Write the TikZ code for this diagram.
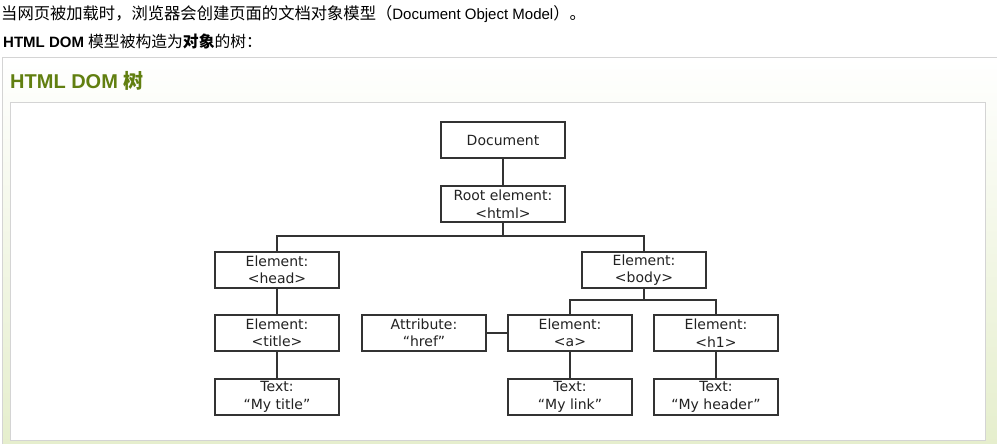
\documentclass[tikz,border=0pt]{standalone}
\usepackage{fontspec}
\setmainfont{Liberation Sans}
\newfontfamily\cjk{Noto Sans CJK SC}
\newfontfamily\verd{DejaVu Sans}
\definecolor{panelgreen}{RGB}{229,238,204}
\definecolor{panelborder}{RGB}{212,212,212}
\definecolor{headgreen}{RGB}{97,127,16}
\definecolor{boxline}{RGB}{51,51,51}
\definecolor{boxtext}{RGB}{34,34,34}
\tikzset{
  dombox/.style={draw=boxline, line width=1.1pt, fill=white, minimum width=124pt, minimum height=36pt,
    inner sep=0pt, align=center, text=boxtext, font=\verd\fontsize{14}{17.5}\selectfont},
  link/.style={draw=boxline, line width=1.2pt},
}
\begin{document}
\begin{tikzpicture}[x=1pt,y=-1pt]
\useasboundingbox (0,0) rectangle (997,444);
\clip (0,0) rectangle (997,444);
% outer panel
\shade[top color=white, bottom color=panelgreen] (2.5,57.5) rectangle (1010,450);
\draw[draw=panelborder, line width=1pt] (2.5,460) -- (2.5,57.5) -- (1010,57.5);
% inner white box
\draw[draw=panelborder, fill=white, line width=1pt] (10.5,102.5) rectangle (985,440);
% texts above
\node[anchor=west, inner sep=0pt, font=\fontsize{15}{18}\selectfont] (t1) at (1,14)
  {{\cjk\fontsize{16.3}{18}\selectfont 当网页被加载时，浏览器会创建页面的文档对象模型（}Document Object Model{\cjk\fontsize{16.3}{18}\selectfont ）。}};
\node[anchor=west, inner sep=0pt, font=\fontsize{15}{18}\selectfont] (t2) at (3,41)
  {\textbf{HTML DOM} {\cjk\fontsize{15.8}{18}\selectfont 模型被构造为\textbf{对象}的树：}};
\node[anchor=west, inner sep=0pt, text=headgreen, font=\bfseries\fontsize{20}{24}\selectfont] (h) at (10,81)
  {HTML DOM {\cjk\bfseries 树}};
% tree
\node[dombox] (doc) at (503,140) {Document};
\node[dombox] (root) at (503,204) {Root element:\\<html>};
\node[dombox] (head) at (277,270) {Element:\\<head>};
\node[dombox] (body) at (644,270) {Element:\\<body>};
\node[dombox] (title) at (277,333) {Element:\\<title>};
\node[dombox] (ttitle) at (277,397) {Text:\\“My title”};
\node[dombox] (attr) at (424,333) {Attribute:\\“href”};
\node[dombox] (a) at (570,333) {Element:\\<a>};
\node[dombox] (h1) at (716,333) {Element:\\<h1>};
\node[dombox] (tlink) at (570,397) {Text:\\“My link”};
\node[dombox] (theader) at (716,397) {Text:\\“My header”};
\coordinate (rb) at (503,236);
\coordinate (bb) at (644,300);
\draw[link] (doc) -- (root);
\draw[link] (root) -- (rb);
\draw[link] (head.north) |- (rb) -| (body.north);
\draw[link] (head) -- (title);
\draw[link] (title) -- (ttitle);
\draw[link] (body) -- (bb);
\draw[link] (a.north) |- (bb) -| (h1.north);
\draw[link] (attr) -- (a);
\draw[link] (a) -- (tlink);
\draw[link] (h1) -- (theader);
\end{tikzpicture}
\end{document}
